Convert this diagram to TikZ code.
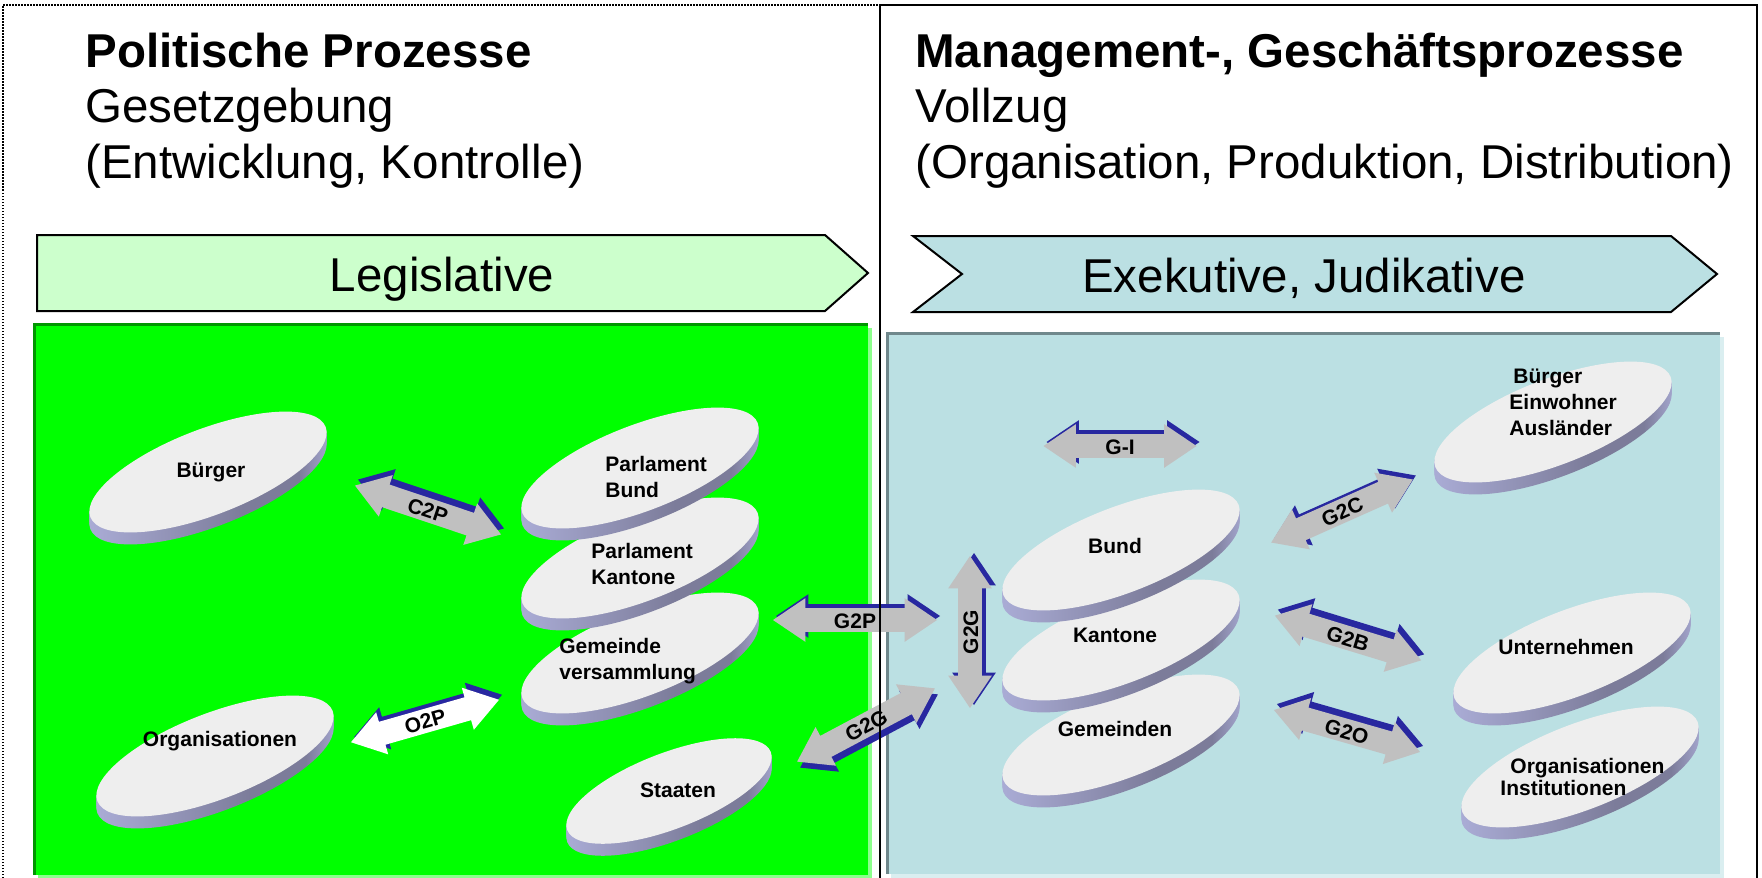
\documentclass[tikz,border=0pt]{standalone}
\usepackage{fontspec}
\setmainfont{Liberation Sans}
\usetikzlibrary{shapes.arrows}

\definecolor{legigreen}{RGB}{0,255,0}
\definecolor{legiedge}{RGB}{0,150,0}
\definecolor{legishadow}{RGB}{140,255,140}
\definecolor{legilight}{RGB}{204,255,204}
\definecolor{exeblue}{RGB}{187,224,227}
\definecolor{exeedge}{RGB}{112,136,140}
\definecolor{exeshadow}{RGB}{218,238,240}
\definecolor{disctop}{RGB}{238,238,238}
\definecolor{sidelight}{RGB}{172,174,216}
\definecolor{sidedark}{RGB}{124,124,154}
\definecolor{arrgray}{RGB}{192,192,192}
\definecolor{arrblue}{RGB}{40,40,160}

\pgfdeclarehorizontalshading{discside}{100bp}{color(0bp)=(sidelight); color(25bp)=(sidelight); color(57bp)=(sidedark); color(68bp)=(sidedark); color(75bp)=(sidelight); color(100bp)=(sidelight)}

\begin{document}
\begin{tikzpicture}[x=0.5pt, y=-0.5pt,
    headline/.style={anchor=base west, inner sep=0pt, font=\fontsize{23.75}{27.75}\selectfont\bfseries},
    subline/.style={anchor=base west, inner sep=0pt, font=\fontsize{23.75}{27.75}\selectfont},
    bandlabel/.style={anchor=base, inner sep=0pt, font=\fontsize{23.75}{27.75}\selectfont},
    disclabel/.style={anchor=base, inner sep=0pt, font=\fontsize{10.5}{13}\selectfont\bfseries},
    disclabelw/.style={disclabel, anchor=base west},
    egov/.style={double arrow, double arrow head extend=5pt, double arrow tip angle=68,
        double arrow head indent=0pt, inner xsep=0pt, inner ysep=1.75pt,
        text height=8pt, text depth=0pt, fill=arrgray,
        font=\fontsize{10.5}{13}\selectfont\bfseries},
    egovshade/.style={egov, fill=arrblue}]

    \useasboundingbox (0,0) rectangle (1762,878);

    % Headlines of both halves
    \node[headline] (polit) at (85,67) {Politische Prozesse};
    \node[subline] (gesetz) at (85,122) {Gesetzgebung};
    \node[subline] (entw) at (85,178) {(Entwicklung, Kontrolle)};
    \node[headline] (mgmt) at (915,67) {Management-, Geschäftsprozesse};
    \node[subline] (vollzug) at (915,122) {Vollzug};
    \node[subline] (org) at (915,178) {(Organisation, Produktion, Distribution)};

    % Process bands
    \draw[fill=legilight, line width=1pt] (37,235) -- (825,235) -- (868,273) -- (825,311) -- (37,311) -- cycle;
    \draw[fill=exeblue, line width=1pt] (913,236) -- (1671,236) -- (1717,274) -- (1671,312) -- (913,312) -- (962,274) -- cycle;
    \node[bandlabel] (legis) at (442,291) {Legislative};
    \node[bandlabel] (exek) at (1304,292) {Exekutive, Judikative};

    % Panels
    \fill[legishadow] (38,328) rectangle (872,878);
    \fill[legigreen] (34,324) rectangle (868,875);
    \draw[legiedge, line width=1.5pt] (34,875) -- (34,324) -- (868,324);
    \fill[exeshadow] (891,337) rectangle (1724,878);
    \fill[exeblue] (887,333) rectangle (1720,874);
    \draw[exeedge, line width=1.5pt] (887,874) -- (887,333) -- (1720,333);

    % Discs (lowest of each stack first)
    \foreach \cx/\cy/\a/\b in {640/653/126/43, 640/558/126/43, 640/468/126/43,
        208/472/126/43, 215/756/126/43, 669/791/109/38,
        1121/735/126/43, 1121/640/126/43, 1121/550/126/43,
        1553/422/126/43, 1572/653/126/43, 1580/767/126/43} {
        \foreach \d in {12,10,...,2}
            \shade[shading=discside, rotate around={21:(\cx,\cy+\d)}] (\cx,\cy+\d) ellipse [x radius=\a, y radius=\b];
        \fill[disctop, rotate around={21:(\cx,\cy)}] (\cx,\cy) ellipse [x radius=\a, y radius=\b];
    }

    % Disc labels
    \node[disclabel] (buerger) at (211,477) {Bürger};
    \node[disclabelw] (pbund1) at (605,471) {Parlament};
    \node[disclabelw] (pbund2) at (605,497) {Bund};
    \node[disclabelw] (pkant1) at (591,558) {Parlament};
    \node[disclabelw] (pkant2) at (591,584) {Kantone};
    \node[disclabelw] (gvers1) at (559,653) {Gemeinde};
    \node[disclabelw] (gvers2) at (559,679) {versammlung};
    \node[disclabel] (orgs) at (220,746) {Organisationen};
    \node[disclabel] (staaten) at (678,797) {Staaten};
    \node[disclabel] (bund) at (1115,553) {Bund};
    \node[disclabel] (kantone) at (1115,642) {Kantone};
    \node[disclabel] (gemeinden) at (1115,736) {Gemeinden};
    \node[disclabelw] (bea1) at (1513,383) {Bürger};
    \node[disclabelw] (bea2) at (1509,409) {Einwohner};
    \node[disclabelw] (bea3) at (1509,435) {Ausländer};
    \node[disclabel] (untern) at (1566,654) {Unternehmen};
    \node[disclabelw] (oi1) at (1510,773) {Organisationen};
    \node[disclabelw] (oi2) at (1500,795) {Institutionen};

    % Block arrows, blue copy first
    \node[egovshade, rotate=-18.5, minimum height=77pt] at ([shift={(3,-6)}]428,510) {};
    \node[egov, rotate=-18.5, minimum height=77pt] (c2p) at (428,510) {C2P};
    \node[egovshade, rotate=16, minimum height=77pt] at ([shift={(3,-5)}]425,721) {};
    \node[egov, fill=white, rotate=16, minimum height=77pt] (o2p) at (425,721) {O2P};
    \node[egovshade, minimum height=82pt] at ([shift={(3,-4)}]855,620) {};
    \node[egov, minimum height=82pt] (g2p) at (855,620) {G2P};
    \node[egovshade, rotate=90, minimum height=76pt] at ([shift={(4,-3)}]970,632) {};
    \node[egov, rotate=90, minimum height=76pt] (g2gv) at (970,632) {G2G};
    \node[egovshade, rotate=28, minimum height=78pt] at ([shift={(3,6)}]866,725) {};
    \node[egov, rotate=28, minimum height=78pt] (g2gd) at (866,725) {G2G};
    \node[egovshade, minimum height=76.5pt] at ([shift={(3,-4)}]1120,446) {};
    \node[egov, minimum height=76.5pt] (gi) at (1120,446) {G-I};
    \node[egovshade, rotate=24, minimum height=77.5pt] at ([shift={(3,-4)}]1342,511) {};
    \node[egov, rotate=24, minimum height=77.5pt] (g2c) at (1342,511) {G2C};
    \node[egovshade, rotate=-17, minimum height=76.5pt] at ([shift={(3,-6)}]1348,638) {};
    \node[egov, rotate=-17, minimum height=76.5pt] (g2b) at (1348,638) {G2B};
    \node[egovshade, rotate=-16, minimum height=76pt] at ([shift={(3,-6)}]1347,731) {};
    \node[egov, rotate=-16, minimum height=76pt] (g2o) at (1347,731) {G2O};

    % Outer frames
    \draw[dash pattern=on 0.75pt off 0.75pt, line width=0.75pt] (3,878) -- (3,5) -- (880,5);
    \draw[line width=1pt] (880,878) -- (880,5) -- (1757,5) -- (1757,878);

\end{tikzpicture}
\end{document}
